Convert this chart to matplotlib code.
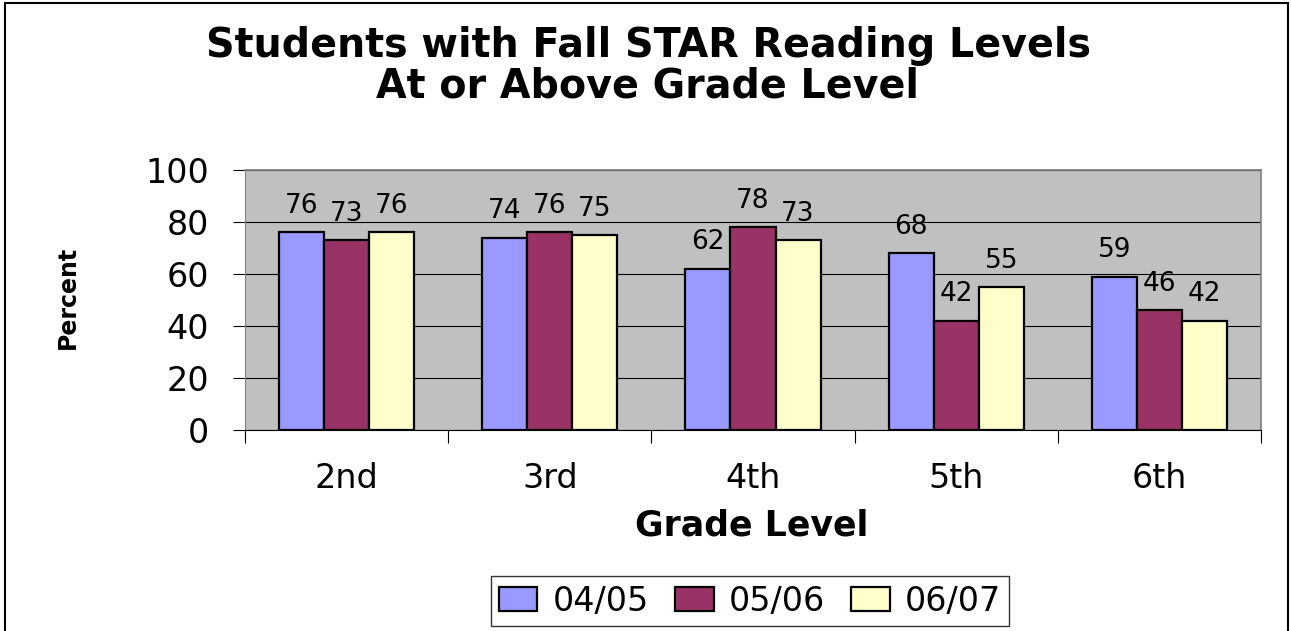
import matplotlib
matplotlib.use("Agg")
import matplotlib.pyplot as plt
from matplotlib.patches import Rectangle
import numpy as np

plt.rcParams['font.family'] = ['DejaVu Sans']

grades = ["2nd", "3rd", "4th", "5th", "6th"]
series_names = ["04/05", "05/06", "06/07"]
s0405 = [76, 74, 62, 68, 59]
s0506 = [73, 76, 78, 42, 46]
s0607 = [76, 75, 73, 55, 42]
colors = ["#9999FF", "#993366", "#FFFFCC"]

W, H = 1291, 631
fig = plt.figure(figsize=(W / 100, H / 100), dpi=100)
ax = fig.add_axes([245 / W, 1 - 430 / H, (1261 - 245) / W, (430 - 170) / H])
ax.set_facecolor("#C0C0C0")

x = np.arange(len(grades))
bw = 0.222
for i, (vals, c, name) in enumerate(zip([s0405, s0506, s0607], colors, series_names)):
    pos = x + (i - 1) * bw
    ax.bar(pos, vals, width=bw, color=c, edgecolor="black", linewidth=1.6, label=name, zorder=3)
    for px, v in zip(pos, vals):
        ax.annotate(str(v), (px, v), xytext=(0, 19), textcoords="offset points",
                    ha="center", va="center", fontsize=19, zorder=4)

ax.set_xlim(-0.5, len(grades) - 0.5)
ax.set_ylim(0, 100)
ax.set_yticks([0, 20, 40, 60, 80, 100])
ax.yaxis.grid(True, color="black", linewidth=0.8, zorder=1)
ax.set_axisbelow(True)
ax.tick_params(axis="y", labelsize=24, length=9, width=0.8, pad=17, direction="out")
ax.set_xticks(x)
ax.set_xticklabels(grades)
ax.set_xticks(np.arange(-0.5, len(grades)), minor=True)
ax.tick_params(axis="x", which="major", length=0, labelsize=24, pad=23)
ax.tick_params(axis="x", which="minor", length=9, width=0.8, direction="out")
for side in ["top", "right"]:
    ax.spines[side].set_color("#808080")
    ax.spines[side].set_linewidth(1.2)
ax.spines["left"].set_color("#808080")
ax.spines["bottom"].set_color("black")

fig.text(648 / W, 1 - 66 / H, "Students with Fall STAR Reading Levels\nAt or Above Grade Level",
         ha="center", va="center", fontsize=28.5, fontweight="bold", linespacing=1.0)
fig.text(752 / W, 1 - 525 / H, "Grade Level", ha="center", va="center",
         fontsize=25, fontweight="bold")
fig.text(68 / W, 1 - 297 / H, "Percent", ha="center", va="center",
         fontsize=17, fontweight="bold", rotation=90)

leg = fig.legend(loc="center", bbox_to_anchor=(750 / W, 1 - 601 / H), ncol=3,
                 fontsize=24, frameon=True, fancybox=False, edgecolor="black",
                 handlelength=1.15, handleheight=0.75, handletextpad=0.45,
                 columnspacing=0.8, borderpad=0.25, borderaxespad=0)
leg.get_frame().set_linewidth(1.0)

fig.patches.append(Rectangle((5 / W, -0.01), (1288 - 5) / W, 1 - 3 / H + 0.01,
                             transform=fig.transFigure, fill=False,
                             edgecolor="black", linewidth=1.5))

fig.savefig("out.png", dpi=100)
